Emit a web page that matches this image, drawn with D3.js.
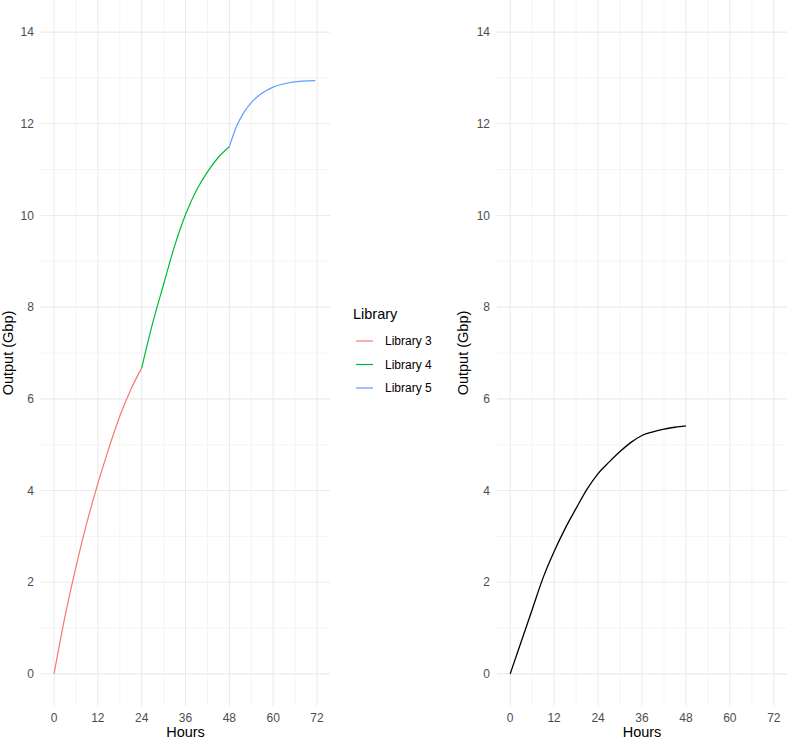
<!DOCTYPE html>
<meta charset="utf-8">
<style>
body { margin: 0; background: #fff; }
text { font-family: "Liberation Sans", Arial, sans-serif; }
.grid-major { stroke: #ebebeb; stroke-width: 1.1; }
.grid-minor { stroke: #ebebeb; stroke-width: 0.55; }
.tick-label { fill: #4d4d4d; font-size: 12px; }
.axis-title { fill: #000; font-size: 14.5px; }
</style>
<svg width="787" height="741"></svg>
<script src="https://cdn.jsdelivr.net/npm/d3@7"></script>
<script>

// data
var hours3 = [0, 3, 6, 9, 12, 15, 18, 21, 24],
    lib3 = [0, 1.25, 2.33, 3.3, 4.15, 4.92, 5.62, 6.2, 6.67];
var hours4 = [24, 27, 30, 33, 36, 39, 42, 45, 48],
    lib4 = [6.67, 7.65, 8.5, 9.33, 10.02, 10.55, 10.95, 11.27, 11.5];
var hours5 = [48, 50, 52, 54, 57, 60, 64, 68, 71.5],
    lib5 = [11.5, 11.95, 12.25, 12.46, 12.67, 12.8, 12.89, 12.93, 12.94];
var hoursAll = [0, 3, 6, 9, 12, 15, 18, 21, 24, 27, 30, 33, 36, 39, 42, 45, 48],
    outputAll = [0, 0.7, 1.4, 2.1, 2.67, 3.17, 3.61, 4.03, 4.37, 4.62, 4.85, 5.05, 5.2, 5.28, 5.34, 5.38, 5.41];

var libraries = ["Library 3", "Library 4", "Library 5"],
    colors = ["#F8766D", "#00BA38", "#619CFF"];
var xTicks = [0, 12, 24, 36, 48, 60, 72],
    xMinor = [6, 18, 30, 42, 54, 66],
    yTicks = [0, 2, 4, 6, 8, 10, 12, 14],
    yMinor = [1, 3, 5, 7, 9, 11, 13];

var svg = d3.select("svg");

var y = d3.scaleLinear().domain([-0.7, 14.7]).range([706, 0]);

function zip(xs, ys) { return xs.map(function(d, i) { return [d, ys[i]]; }); }

function panel(x0, x1, series, titleX) {
  var x = d3.scaleLinear().domain([-3.6, 75.6]).range([x0, x1]);
  var g = svg.append("g");

  g.selectAll(".ymin").data(yMinor).enter().append("line")
      .attr("class", "grid-minor")
      .attr("x1", x0).attr("x2", x1)
      .attr("y1", y).attr("y2", y);
  g.selectAll(".xmin").data(xMinor).enter().append("line")
      .attr("class", "grid-minor")
      .attr("x1", x).attr("x2", x)
      .attr("y1", y.range()[0]).attr("y2", y.range()[1]);
  g.selectAll(".ymaj").data(yTicks).enter().append("line")
      .attr("class", "grid-major")
      .attr("x1", x0).attr("x2", x1)
      .attr("y1", y).attr("y2", y);
  g.selectAll(".xmaj").data(xTicks).enter().append("line")
      .attr("class", "grid-major")
      .attr("x1", x).attr("x2", x)
      .attr("y1", y.range()[0]).attr("y2", y.range()[1]);

  g.selectAll(".ylab").data(yTicks).enter().append("text")
      .attr("class", "tick-label")
      .attr("x", x0 - 7)
      .attr("y", y)
      .attr("dy", "0.35em")
      .attr("text-anchor", "end")
      .text(function(d) { return d; });
  g.selectAll(".xlab").data(xTicks).enter().append("text")
      .attr("class", "tick-label")
      .attr("x", x)
      .attr("y", 722)
      .attr("text-anchor", "middle")
      .text(function(d) { return d; });

  g.append("text")
      .attr("class", "axis-title")
      .attr("x", x(36))
      .attr("y", 737)
      .attr("text-anchor", "middle")
      .text("Hours");
  g.append("text")
      .attr("class", "axis-title")
      .attr("transform", "translate(" + titleX + "," + y(7) + ")rotate(-90)")
      .attr("text-anchor", "middle")
      .text("Output (Gbp)");

  var line = d3.line()
      .x(function(d) { return x(d[0]); })
      .y(function(d) { return y(d[1]); })
      .curve(d3.curveMonotoneX);

  series.forEach(function(s) {
    g.append("path")
        .datum(s.points)
        .attr("fill", "none")
        .attr("stroke", s.color)
        .attr("stroke-width", s.width)
        .attr("d", line);
  });
}

panel(40.85, 330.2, [
  { points: zip(hours3, lib3), color: colors[0], width: 1.2 },
  { points: zip(hours4, lib4), color: colors[1], width: 1.2 },
  { points: zip(hours5, lib5), color: colors[2], width: 1.2 }
], 13);

panel(497, 787, [
  { points: zip(hoursAll, outputAll), color: "#000", width: 1.3 }
], 468);

// legend
var legend = svg.append("g").attr("transform", "translate(353,0)");
legend.append("text")
    .attr("x", 0).attr("y", 319)
    .style("font-size", "14.5px")
    .text("Library");
var item = legend.selectAll(".item").data(libraries).enter().append("g")
    .attr("transform", function(d, i) { return "translate(0," + (341 + i * 23.5) + ")"; });
item.append("line")
    .attr("x1", 3).attr("x2", 20)
    .attr("stroke", function(d, i) { return colors[i]; })
    .attr("stroke-width", 1.2);
item.append("text")
    .attr("x", 32).attr("dy", "0.35em")
    .style("font-size", "12px")
    .text(function(d) { return d; });

</script>
